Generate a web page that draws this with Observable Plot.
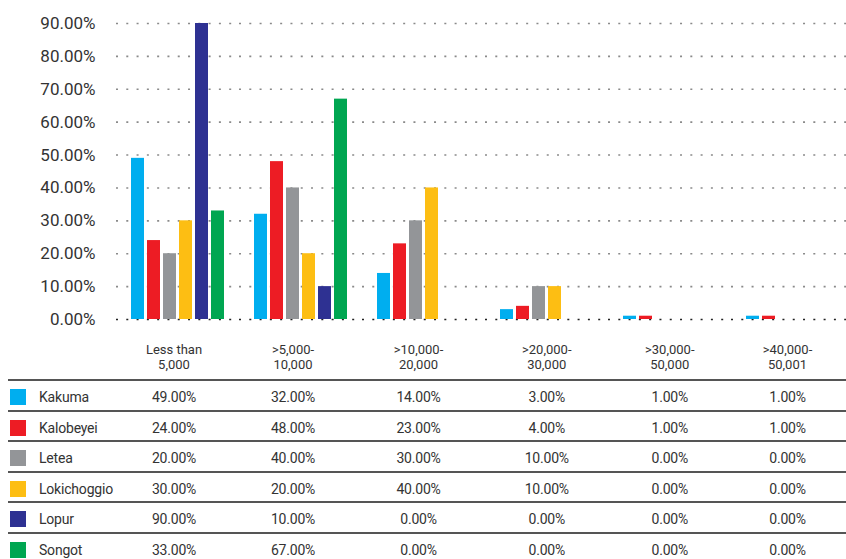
<!DOCTYPE html>
<html>
<head>
<meta charset="utf-8">
<script src="https://cdn.jsdelivr.net/npm/d3@7"></script>
<script src="https://cdn.jsdelivr.net/npm/@observablehq/plot@0.6"></script>
<style>
  html, body { margin: 0; padding: 0; background: #fff; }
  #chart svg { display: block; }
  table { border-collapse: separate; border-spacing: 0; table-layout: fixed; margin-left: 8px; width: 838px; font-family: Roboto, sans-serif; color: #333; }
  th { font-weight: normal; font-size: 13px; line-height: 15px; white-space: pre-line; padding: 12px 0 7px 0; border-bottom: 2px solid #555; text-align: center; }
  td { font-size: 14px; letter-spacing: -0.2px; line-height: 23.5px; height: 23.5px; padding: 5px 0 0 0; border-bottom: 2px solid #555; text-align: center; white-space: nowrap; }
  tr:last-child td { border-bottom: none; }
  td.name { text-align: left; }
  .sw { display: inline-block; width: 16px; height: 16px; vertical-align: -3px; margin: 0 13px 0 2px; }
</style>
</head>
<body>
<div id="chart"></div>
<table id="tbl"></table>
<script>
const categories = ["Less than\n5,000", ">5,000-\n10,000", ">10,000-\n20,000", ">20,000-\n30,000", ">30,000-\n50,000", ">40,000-\n50,001"];
const series = ["Kakuma", "Kalobeyei", "Letea", "Lokichoggio", "Lopur", "Songot"];
const colors = ["#00AEEF", "#ED1C24", "#939598", "#FDBE13", "#2E3192", "#00A651"];
const kakuma      = [49, 32, 14, 3, 1, 1];
const kalobeyei   = [24, 48, 23, 4, 1, 1];
const letea       = [20, 40, 30, 10, 0, 0];
const lokichoggio = [30, 20, 40, 10, 0, 0];
const lopur       = [90, 10, 0, 0, 0, 0];
const songot      = [33, 67, 0, 0, 0, 0];
const yTicks = [0, 10, 20, 30, 40, 50, 60, 70, 80, 90];

const values = [kakuma, kalobeyei, letea, lokichoggio, lopur, songot];
const data = series.flatMap((s, i) => categories.map((c, j) => ({series: s, category: c, value: values[i][j]})));
const fmt = d => d.toFixed(2) + "%";

const chart = Plot.plot({
  width: 846,
  height: 330,
  marginLeft: 114,
  marginRight: -9,
  marginTop: 23,
  marginBottom: 11,
  style: {fontFamily: "Roboto, sans-serif", color: "#333", background: "#fff"},
  fx: {domain: categories, padding: 0, axis: null},
  x: {domain: series, paddingInner: 0.2, paddingOuter: 0.87, axis: null},
  y: {domain: [0, 90], axis: null},
  color: {domain: series, range: colors},
  marks: [
    Plot.ruleY(yTicks.filter(d => d > 0), {stroke: "#8a8a8a", strokeWidth: 1.6, strokeDasharray: "2,8.29"}),
    Plot.ruleY([0], {stroke: "#222", strokeWidth: 1.6, strokeDasharray: "2,8.29"}),
    Plot.barY(data, {fx: "category", x: "series", y: "value", fill: "series"}),
    Plot.axisY({ticks: yTicks, tickSize: 0, tickPadding: 21, tickFormat: fmt, fontSize: 17, label: null})
  ]
});
document.getElementById("chart").appendChild(chart);

// data table with legend swatches
const tbl = d3.select("#tbl");
const cg = tbl.append("colgroup");
[108, 116, 122, 129, 127.5, 118.5, 117].forEach(w => cg.append("col").style("width", w + "px"));
const hr = tbl.append("thead").append("tr");
hr.append("th");
categories.forEach(c => hr.append("th").text(c));
const tb = tbl.append("tbody");
series.forEach((s, i) => {
  const tr = tb.append("tr");
  const nm = tr.append("td").attr("class", "name");
  nm.append("span").attr("class", "sw").style("background", colors[i]);
  nm.append("span").text(s);
  values[i].forEach(v => tr.append("td").text(fmt(v)));
});
</script>
</body>
</html>
